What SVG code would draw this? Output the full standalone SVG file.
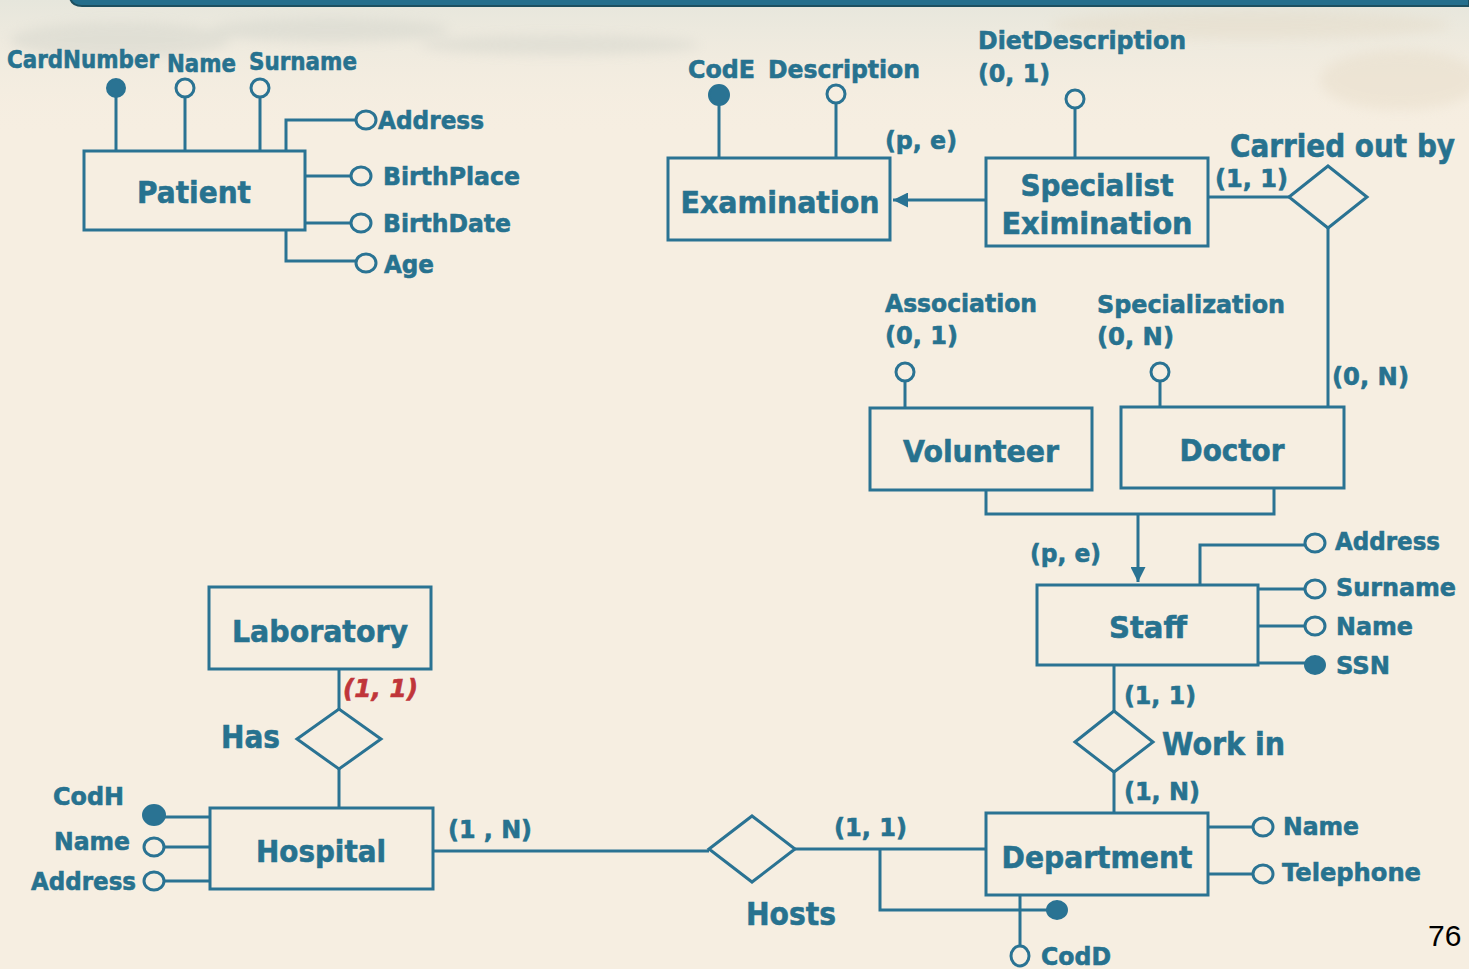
<svg xmlns="http://www.w3.org/2000/svg" width="1469" height="969" viewBox="0 0 1469 969">
<defs>
<linearGradient id="bgtop" x1="0" y1="0" x2="0" y2="1">
<stop offset="0" stop-color="#e6e6dc"/>
<stop offset="1" stop-color="#f6eee1" stop-opacity="0"/>
</linearGradient>
<filter id="blur" x="-20%" y="-50%" width="140%" height="200%"><feGaussianBlur stdDeviation="6"/></filter>
<marker id="arr" viewBox="0 0 10 10" refX="10" refY="5" markerWidth="5.5" markerHeight="5" markerUnits="strokeWidth" orient="auto">
<path d="M0,0 L10,5 L0,10 Z" fill="#2a7393"/>
</marker>
<style>
.ln{stroke:#2a7393;stroke-width:3;fill:none}
.box{stroke:#2a7393;stroke-width:3;fill:none}
.open{stroke:#2a7393;stroke-width:3;fill:#f6eee1}
.key{stroke:#2a7393;stroke-width:2;fill:#2a7393}
.t{font-family:"DejaVu Sans","Liberation Sans",sans-serif;font-weight:bold;fill:#27728f;stroke:#27728f;stroke-width:0.6}
.ent{font-size:31px;text-anchor:middle}
.rel{font-size:32px}
.at{font-size:25px}
.red{fill:#c0353a;stroke:#c0353a;font-style:italic}
</style>
</defs>
<rect width="1469" height="969" fill="#f6eee1"/>
<rect width="1469" height="140" fill="url(#bgtop)"/>
<g filter="url(#blur)" opacity="0.35" fill="#c9ccc4">
<ellipse cx="120" cy="40" rx="110" ry="18"/>
<ellipse cx="330" cy="30" rx="120" ry="12"/>
<ellipse cx="560" cy="45" rx="140" ry="10"/>
<ellipse cx="1250" cy="25" rx="200" ry="14" fill="#e2d6c0"/>
<ellipse cx="1400" cy="80" rx="80" ry="30" fill="#e2d6c0"/>
</g>
<path d="M70,-2 Q72,6 82,6 L1469,6 L1469,-2 Z" fill="#246e8c" stroke="#1c4f60" stroke-width="2"/>

<g id="connectors">
<path class="ln" d="M116,96 V151 M185,97 V151 M260,97 V151"/>
<path class="ln" d="M286,151 V120 H356"/>
<path class="ln" d="M305,176 H351 M305,223 H351"/>
<path class="ln" d="M286,230 V261 H356"/>
<path class="ln" d="M719,103 V158 M836,103 V158"/>
<path class="ln" d="M1075,108 V158"/>
<path class="ln" d="M986,200 H893" marker-end="url(#arr)"/>
<path class="ln" d="M1208,197 H1289 M1328,228 V407"/>
<path class="ln" d="M905,381 V408 M1160,381 V407"/>
<path class="ln" d="M986,490 V514 H1274 V488 M1138,514 V582" marker-end="url(#arr)"/>
<path class="ln" d="M1200,585 V545 H1305 M1258,589 H1305 M1258,626 H1305 M1258,663 H1306"/>
<path class="ln" d="M1114,665 V711 M1114,772 V813"/>
<path class="ln" d="M1208,827 H1253 M1208,874 H1253"/>
<path class="ln" d="M1020,895 V946"/>
<path class="ln" d="M880,849 V910 H1048"/>
<path class="ln" d="M433,851 H709 M795,849 H986"/>
<path class="ln" d="M339,669 V709 M339,769 V808"/>
<path class="ln" d="M163,817 H210 M164,847 H210 M164,881 H210"/>
</g>

<g id="patient">
<rect class="box" x="84" y="151" width="221" height="79"/>
<text class="t ent" x="194" y="203" textLength="114" lengthAdjust="spacingAndGlyphs">Patient</text>
<circle class="key" cx="116" cy="88" r="9"/>
<circle class="open" cx="185" cy="88" r="9"/>
<circle class="open" cx="260" cy="88" r="9"/>
<ellipse class="open" cx="366" cy="120" rx="10" ry="9"/>
<ellipse class="open" cx="361" cy="176" rx="10" ry="9"/>
<ellipse class="open" cx="361" cy="223" rx="10" ry="9"/>
<ellipse class="open" cx="366" cy="263" rx="10" ry="9"/>
<text class="t at" x="7" y="68" textLength="152" lengthAdjust="spacingAndGlyphs">CardNumber</text>
<text class="t at" x="167" y="72" textLength="69" lengthAdjust="spacingAndGlyphs">Name</text>
<text class="t at" x="249" y="70" textLength="108" lengthAdjust="spacingAndGlyphs">Surname</text>
<text class="t at" x="378" y="129" textLength="106" lengthAdjust="spacingAndGlyphs">Address</text>
<text class="t at" x="383" y="185" textLength="137" lengthAdjust="spacingAndGlyphs">BirthPlace</text>
<text class="t at" x="383" y="232" textLength="128" lengthAdjust="spacingAndGlyphs">BirthDate</text>
<text class="t at" x="384" y="273" textLength="50" lengthAdjust="spacingAndGlyphs">Age</text>
</g>

<g id="examination">
<rect class="box" x="668" y="158" width="222" height="82"/>
<text class="t ent" x="780" y="213" textLength="199" lengthAdjust="spacingAndGlyphs">Examination</text>
<circle class="key" cx="719" cy="95" r="10"/>
<circle class="open" cx="836" cy="94" r="9"/>
<text class="t at" x="688" y="78" textLength="67" lengthAdjust="spacingAndGlyphs">CodE</text>
<text class="t at" x="768" y="78" textLength="152" lengthAdjust="spacingAndGlyphs">Description</text>
<text class="t at" x="885" y="149" textLength="72" lengthAdjust="spacingAndGlyphs">(p, e)</text>
</g>

<g id="specialist-examination">
<rect class="box" x="986" y="158" width="222" height="88"/>
<text class="t ent" x="1097" y="196" textLength="153" lengthAdjust="spacingAndGlyphs">Specialist</text>
<text class="t ent" x="1097" y="234" textLength="191" lengthAdjust="spacingAndGlyphs">Eximination</text>
<circle class="open" cx="1075" cy="99" r="9"/>
<text class="t at" x="978" y="49" textLength="208" lengthAdjust="spacingAndGlyphs">DietDescription</text>
<text class="t at" x="978" y="82" textLength="72" lengthAdjust="spacingAndGlyphs">(0, 1)</text>
</g>

<g id="carried-out-by">
<polygon class="box" points="1289,197 1328,166 1367,197 1328,228"/>
<text class="t rel" x="1230" y="157" textLength="225" lengthAdjust="spacingAndGlyphs">Carried out by</text>
<text class="t at" x="1215" y="187" textLength="73" lengthAdjust="spacingAndGlyphs">(1, 1)</text>
<text class="t at" x="1332" y="385" textLength="77" lengthAdjust="spacingAndGlyphs">(0, N)</text>
</g>

<g id="volunteer">
<rect class="box" x="870" y="408" width="222" height="82"/>
<text class="t ent" x="981" y="462" textLength="156" lengthAdjust="spacingAndGlyphs">Volunteer</text>
<circle class="open" cx="905" cy="372" r="9"/>
<text class="t at" x="885" y="312" textLength="152" lengthAdjust="spacingAndGlyphs">Association</text>
<text class="t at" x="885" y="344" textLength="73" lengthAdjust="spacingAndGlyphs">(0, 1)</text>
</g>

<g id="doctor">
<rect class="box" x="1121" y="407" width="223" height="81"/>
<text class="t ent" x="1232" y="461" textLength="105" lengthAdjust="spacingAndGlyphs">Doctor</text>
<circle class="open" cx="1160" cy="372" r="9"/>
<text class="t at" x="1097" y="313" textLength="188" lengthAdjust="spacingAndGlyphs">Specialization</text>
<text class="t at" x="1097" y="345" textLength="77" lengthAdjust="spacingAndGlyphs">(0, N)</text>
</g>

<g id="staff">
<rect class="box" x="1037" y="585" width="221" height="80"/>
<text class="t ent" x="1148" y="638" textLength="78" lengthAdjust="spacingAndGlyphs">Staff</text>
<text class="t at" x="1030" y="562" textLength="71" lengthAdjust="spacingAndGlyphs">(p, e)</text>
<ellipse class="open" cx="1315" cy="543" rx="10" ry="9"/>
<ellipse class="open" cx="1315" cy="589" rx="10" ry="9"/>
<ellipse class="open" cx="1315" cy="626" rx="10" ry="9"/>
<ellipse class="key" cx="1315" cy="665" rx="10" ry="9"/>
<text class="t at" x="1335" y="550" textLength="105" lengthAdjust="spacingAndGlyphs">Address</text>
<text class="t at" x="1336" y="596" textLength="120" lengthAdjust="spacingAndGlyphs">Surname</text>
<text class="t at" x="1336" y="635" textLength="77" lengthAdjust="spacingAndGlyphs">Name</text>
<text class="t at" x="1336" y="674" textLength="54" lengthAdjust="spacingAndGlyphs">SSN</text>
</g>

<g id="work-in">
<polygon class="box" points="1075,742 1114,711 1153,742 1114,772"/>
<text class="t rel" x="1162" y="755" textLength="123" lengthAdjust="spacingAndGlyphs">Work in</text>
<text class="t at" x="1124" y="704" textLength="72" lengthAdjust="spacingAndGlyphs">(1, 1)</text>
<text class="t at" x="1124" y="800" textLength="76" lengthAdjust="spacingAndGlyphs">(1, N)</text>
</g>

<g id="department">
<rect class="box" x="986" y="813" width="222" height="82"/>
<text class="t ent" x="1097" y="868" textLength="191" lengthAdjust="spacingAndGlyphs">Department</text>
<ellipse class="open" cx="1263" cy="827" rx="10" ry="9"/>
<ellipse class="open" cx="1263" cy="874" rx="10" ry="9"/>
<ellipse class="open" cx="1020" cy="956" rx="9" ry="10"/>
<ellipse class="key" cx="1057" cy="910" rx="10" ry="9"/>
<text class="t at" x="1283" y="835" textLength="76" lengthAdjust="spacingAndGlyphs">Name</text>
<text class="t at" x="1282" y="881" textLength="139" lengthAdjust="spacingAndGlyphs">Telephone</text>
<text class="t at" x="1041" y="965" textLength="70" lengthAdjust="spacingAndGlyphs">CodD</text>
</g>

<g id="hosts">
<polygon class="box" points="709,849 752,816 795,849 752,882"/>
<text class="t rel" x="746" y="925" textLength="90" lengthAdjust="spacingAndGlyphs">Hosts</text>
<text class="t at" x="834" y="836" textLength="73" lengthAdjust="spacingAndGlyphs">(1, 1)</text>
<text class="t at" x="448" y="838" textLength="84" lengthAdjust="spacingAndGlyphs">(1 , N)</text>
</g>

<g id="laboratory">
<rect class="box" x="209" y="587" width="222" height="82"/>
<text class="t ent" x="320" y="642" textLength="176" lengthAdjust="spacingAndGlyphs">Laboratory</text>
</g>

<g id="has">
<polygon class="box" points="297,739 339,709 381,739 339,769"/>
<text class="t rel" x="221" y="748" textLength="59" lengthAdjust="spacingAndGlyphs">Has</text>
<text class="t at red" x="343" y="697" textLength="75" lengthAdjust="spacingAndGlyphs">(1, 1)</text>
</g>

<g id="hospital">
<rect class="box" x="210" y="808" width="223" height="81"/>
<text class="t ent" x="321" y="862" textLength="130" lengthAdjust="spacingAndGlyphs">Hospital</text>
<ellipse class="key" cx="154" cy="815" rx="11" ry="10"/>
<ellipse class="open" cx="154" cy="847" rx="10" ry="9"/>
<ellipse class="open" cx="154" cy="881" rx="10" ry="9"/>
<text class="t at" x="53" y="805" textLength="71" lengthAdjust="spacingAndGlyphs">CodH</text>
<text class="t at" x="54" y="850" textLength="76" lengthAdjust="spacingAndGlyphs">Name</text>
<text class="t at" x="31" y="890" textLength="105" lengthAdjust="spacingAndGlyphs">Address</text>
</g>

<text x="1428" y="946" font-family="Liberation Sans, Arial, sans-serif" font-size="30" fill="#000">76</text>
</svg>
